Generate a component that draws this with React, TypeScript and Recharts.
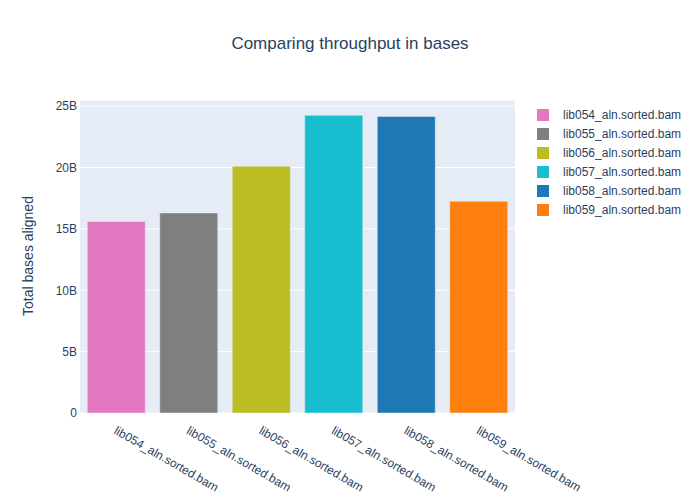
import React from "react";
import { BarChart, Bar, Cell, XAxis, YAxis, CartesianGrid } from "recharts";

const libraries = [
  "lib054_aln.sorted.bam",
  "lib055_aln.sorted.bam",
  "lib056_aln.sorted.bam",
  "lib057_aln.sorted.bam",
  "lib058_aln.sorted.bam",
  "lib059_aln.sorted.bam",
];
const basesAligned = [15.6e9, 16.3e9, 20.1e9, 24.25e9, 24.15e9, 17.25e9];
const barColors = ["#e377c2", "#7f7f7f", "#bcbd22", "#17becf", "#1f77b4", "#ff7f0e"];
const yTicks = [0, 5e9, 10e9, 15e9, 20e9, 25e9];

const FONT = "'Liberation Sans', Arial, sans-serif";
const TEXT = "#2a3f5f";

const data = libraries.map((name, i) => ({ name, bases: basesAligned[i] }));

const fmtBases = (v: number) => (v === 0 ? "0" : `${v / 1e9}B`);

const RotatedTick = ({ x, y, payload }: any) => (
  <g transform={`translate(${x - 3},${y + 12})`}>
    <text
      x={0}
      y={0}
      transform="rotate(30)"
      textAnchor="start"
      fontSize={12}
      fontFamily={FONT}
      fill={TEXT}
    >
      {payload.value}
    </text>
  </g>
);

const App = () => {
  return (
    <div style={{ position: "absolute", left: 0, top: 0, width: 700, height: 500, background: "#fff" }}>
      <BarChart
        width={700}
        height={500}
        data={data}
        margin={{ top: 100, right: 185, bottom: 0, left: 0 }}
        barCategoryGap="10%"
      >
        <CartesianGrid fill="#E5ECF6" stroke="#ffffff" vertical={false} />
        <XAxis
          dataKey="name"
          axisLine={false}
          tickLine={false}
          interval={0}
          tick={<RotatedTick />}
          height={87}
        />
        <YAxis
          width={80}
          domain={[0, 25.5e9]}
          ticks={yTicks}
          tickFormatter={fmtBases}
          axisLine={false}
          tickLine={false}
          tickSize={0}
          tickMargin={3}
          tick={{ fontSize: 12, fontFamily: FONT, fill: TEXT }}
        />
        <Bar dataKey="bases" stroke="#E5ECF6" strokeWidth={0.5} isAnimationActive={false}>
          {data.map((d, i) => (
            <Cell key={d.name} fill={barColors[i]} />
          ))}
        </Bar>
      </BarChart>

      <div
        style={{
          position: "absolute",
          top: 34,
          left: 0,
          width: 700,
          textAlign: "center",
          fontFamily: FONT,
          fontSize: 17,
          color: TEXT,
        }}
      >
        Comparing throughput in bases
      </div>

      <div
        style={{
          position: "absolute",
          left: 28,
          top: 256,
          transform: "translate(-50%, -50%) rotate(-90deg)",
          whiteSpace: "nowrap",
          fontFamily: FONT,
          fontSize: 14,
          color: TEXT,
        }}
      >
        Total bases aligned
      </div>

      <div style={{ position: "absolute", left: 537, top: 105, fontFamily: FONT, fontSize: 12, color: TEXT }}>
        {libraries.map((name, i) => (
          <div key={name} style={{ display: "flex", alignItems: "center", height: 19 }}>
            <span
              style={{
                display: "inline-block",
                width: 12,
                height: 12,
                background: barColors[i],
                marginRight: 14,
              }}
            />
            <span>{name}</span>
          </div>
        ))}
      </div>
    </div>
  );
};

export default App;
